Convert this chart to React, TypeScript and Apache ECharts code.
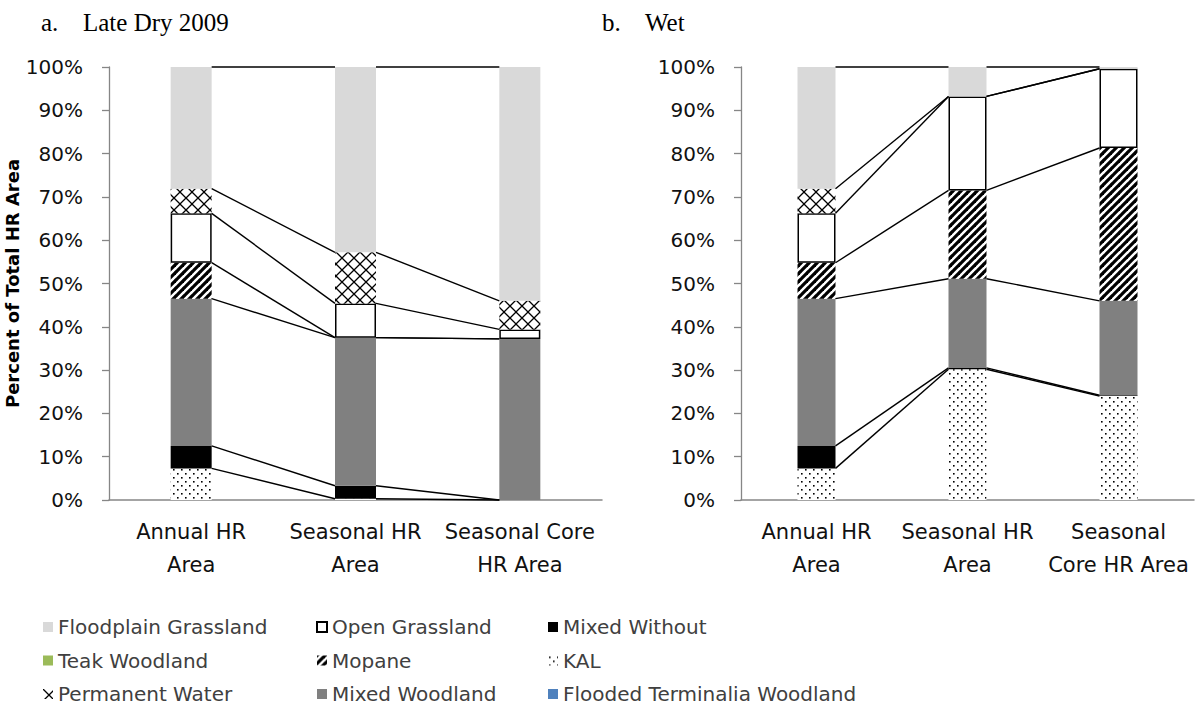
import React, { useEffect, useRef } from "react";
import * as echarts from "echarts";

// ---------- data ----------
const categoriesDry = ["Annual HR\nArea", "Seasonal HR\nArea", "Seasonal Core\nHR Area"];
const categoriesWet = ["Annual HR\nArea", "Seasonal HR\nArea", "Seasonal\nCore HR Area"];
const yTicks = [0, 10, 20, 30, 40, 50, 60, 70, 80, 90, 100];

// a. Late Dry 2009 (percent of total HR area)
const kalDry = [7.3, 0.3, 0];
const mixedWithoutDry = [5.2, 3.0, 0];
const mixedWoodlandDry = [34.0, 34.2, 37.2];
const mopaneDry = [8.3, 0, 0];
const openGrasslandDry = [11.4, 7.9, 2.2];
const permanentWaterDry = [5.7, 11.8, 6.6];
const floodplainDry = [28.1, 42.8, 54.0];
const teakDry = [0, 0, 0];
const floodedTerminaliaDry = [0, 0, 0];

// b. Wet
const kalWet = [7.3, 30.2, 24.0];
const mixedWithoutWet = [5.2, 0.3, 0.2];
const mixedWoodlandWet = [34.0, 20.6, 21.8];
const mopaneWet = [8.3, 20.4, 35.3];
const openGrasslandWet = [11.4, 21.7, 18.3];
const permanentWaterWet = [5.7, 0, 0];
const floodplainWet = [28.1, 6.8, 0.4];
const teakWet = [0, 0, 0];
const floodedTerminaliaWet = [0, 0, 0];

const legendCol1 = ["Floodplain Grassland", "Teak Woodland", "Permanent Water"];
const legendCol2 = ["Open Grassland", "Mopane", "Mixed Woodland"];
const legendCol3 = ["Mixed Without", "KAL", "Flooded Terminalia Woodland"];

// ---------- patterns ----------
function makePattern(kind: string) {
  const size = kind === "cross" ? 12 : 8;
  const c = document.createElement("canvas");
  c.width = size;
  c.height = size;
  const ctx = c.getContext("2d")!;
  ctx.fillStyle = "#ffffff";
  ctx.fillRect(0, 0, size, size);
  ctx.fillStyle = "#000000";
  ctx.strokeStyle = "#000000";
  if (kind === "dots") {
    ctx.fillRect(1, 1, 1.6, 1.6);
    ctx.fillRect(5, 5, 1.6, 1.6);
  } else if (kind === "stripes") {
    ctx.lineWidth = 3.2;
    for (const k of [-size, 0, size]) {
      ctx.beginPath();
      ctx.moveTo(k - 1, size + 1);
      ctx.lineTo(k + size + 1, -1);
      ctx.stroke();
    }
  } else if (kind === "cross") {
    ctx.lineWidth = 1.3;
    ctx.beginPath();
    ctx.moveTo(0, 0);
    ctx.lineTo(size, size);
    ctx.moveTo(size, 0);
    ctx.lineTo(0, size);
    ctx.stroke();
  }
  return {
    image: c.toDataURL(),
    repeat: "repeat",
    imageWidth: size,
    imageHeight: size,
  };
}

export default function App() {
  const ref = useRef<HTMLDivElement>(null);

  useEffect(() => {
    if (!ref.current) return;
    const chart = echarts.init(ref.current, undefined, { renderer: "svg" });

    const dots = makePattern("dots");
    const stripes = makePattern("stripes");
    const cross = makePattern("cross");

    const habitats = [
      { name: "Teak Woodland", dry: teakDry, wet: teakWet, style: { color: "#9bbb59" } },
      { name: "Flooded Terminalia Woodland", dry: floodedTerminaliaDry, wet: floodedTerminaliaWet, style: { color: "#4f81bd" } },
      { name: "KAL", dry: kalDry, wet: kalWet, style: { color: dots } },
      { name: "Mixed Without", dry: mixedWithoutDry, wet: mixedWithoutWet, style: { color: "#000000" } },
      { name: "Mixed Woodland", dry: mixedWoodlandDry, wet: mixedWoodlandWet, style: { color: "#808080" } },
      { name: "Mopane", dry: mopaneDry, wet: mopaneWet, style: { color: stripes } },
      { name: "Open Grassland", dry: openGrasslandDry, wet: openGrasslandWet, style: { color: "#ffffff", borderColor: "#000000", borderWidth: 1.5 } },
      { name: "Permanent Water", dry: permanentWaterDry, wet: permanentWaterWet, style: { color: cross } },
      { name: "Floodplain Grassland", dry: floodplainDry, wet: floodplainWet, style: { color: "#d9d9d9" } },
    ];

    const barWidths = [41, 38];
    const series: any[] = [];
    [0, 1].forEach((g) => {
      const key = g === 0 ? "dry" : "wet";
      habitats.forEach((h) => {
        series.push({
          type: "bar",
          name: h.name,
          xAxisIndex: g,
          yAxisIndex: g,
          stack: "total" + g,
          barWidth: barWidths[g],
          data: (h as any)[key],
          itemStyle: h.style,
          emphasis: { disabled: true },
        });
      });
      // series lines (connect the top of each segment between neighbouring bars)
      const cum = [0, 0, 0];
      const lineData: number[][] = [];
      habitats.forEach((h) => {
        const vals: number[] = (h as any)[key];
        for (let i = 0; i < 3; i++) cum[i] += vals[i];
        const allZero = vals.every((v) => v === 0);
        if (!allZero) {
          for (let i = 0; i < 2; i++) lineData.push([i, cum[i], cum[i + 1]]);
        }
      });
      const bw = barWidths[g];
      series.push({
        type: "custom",
        name: "series lines " + g,
        xAxisIndex: g,
        yAxisIndex: g,
        z: 5,
        encode: { x: 0, y: [1, 2] },
        data: lineData,
        renderItem: (params: any, api: any) => {
          const i = api.value(0);
          const p1 = api.coord([i, api.value(1)]);
          const p2 = api.coord([i + 1, api.value(2)]);
          return {
            type: "line",
            shape: { x1: p1[0] + bw / 2, y1: p1[1], x2: p2[0] - bw / 2, y2: p2[1] },
            style: { stroke: "#000000", lineWidth: 1.4 },
          };
        },
      });
    });

    const makeY = (g: number) => ({
      type: "value",
      gridIndex: g,
      min: yTicks[0],
      max: yTicks[yTicks.length - 1],
      interval: 10,
      name: g === 0 ? "Percent of Total HR Area" : "",
      nameLocation: "middle",
      nameRotate: 90,
      nameGap: 77,
      nameTextStyle: { fontFamily: "DejaVu Sans", fontSize: 18, fontWeight: "bold", color: "#000000" },
      axisLine: { show: true, lineStyle: { color: "#868686", width: 1.3 } },
      axisTick: { show: true, length: 7, lineStyle: { color: "#868686", width: 1.3 } },
      splitLine: { show: false },
      axisLabel: { fontFamily: "DejaVu Sans", fontSize: 20, color: "#111111", margin: 26, formatter: "{value}%" },
    });

    const makeX = (g: number, cats: string[]) => ({
      type: "category",
      gridIndex: g,
      data: cats,
      axisLine: { show: true, lineStyle: { color: "#868686", width: 1.5 } },
      axisTick: { show: false },
      axisLabel: { fontFamily: "DejaVu Sans", fontSize: 21, color: "#111111", margin: 15, lineHeight: 33, interval: 0 },
    });

    const legendBase = {
      orient: "vertical",
      top: 612,
      itemWidth: 10,
      itemHeight: 10,
      itemGap: 13.5,
      icon: "rect",
      selectedMode: false,
      textStyle: { fontFamily: "DejaVu Sans", fontSize: 20, color: "#404040", lineHeight: 20 },
    };

    const titleFont = "25px 'Liberation Serif'";

    chart.setOption({
      animation: false,
      backgroundColor: "#ffffff",
      grid: [
        { left: 109, top: 67, width: 493, height: 433 },
        { left: 741, top: 67, width: 453, height: 433 },
      ],
      xAxis: [makeX(0, categoriesDry), makeX(1, categoriesWet)],
      yAxis: [makeY(0), makeY(1)],
      legend: [
        { ...legendBase, left: 38, data: legendCol1 },
        { ...legendBase, left: 311, data: legendCol2 },
        { ...legendBase, left: 543, data: legendCol3 },
      ],
      graphic: [
        { type: "text", x: 41, y: 22, style: { text: "a.", font: titleFont, fill: "#000", verticalAlign: "middle" } },
        { type: "text", x: 83, y: 22, style: { text: "Late Dry 2009", font: titleFont, fill: "#000", verticalAlign: "middle" } },
        { type: "text", x: 602, y: 22, style: { text: "b.", font: titleFont, fill: "#000", verticalAlign: "middle" } },
        { type: "text", x: 645, y: 22, style: { text: "Wet", font: titleFont, fill: "#000", verticalAlign: "middle" } },
      ],
      series,
    });

    return () => chart.dispose();
  }, []);

  return (
    <div
      ref={ref}
      style={{ position: "fixed", left: 0, top: 0, width: 1199, height: 720, background: "#fff" }}
    />
  );
}
